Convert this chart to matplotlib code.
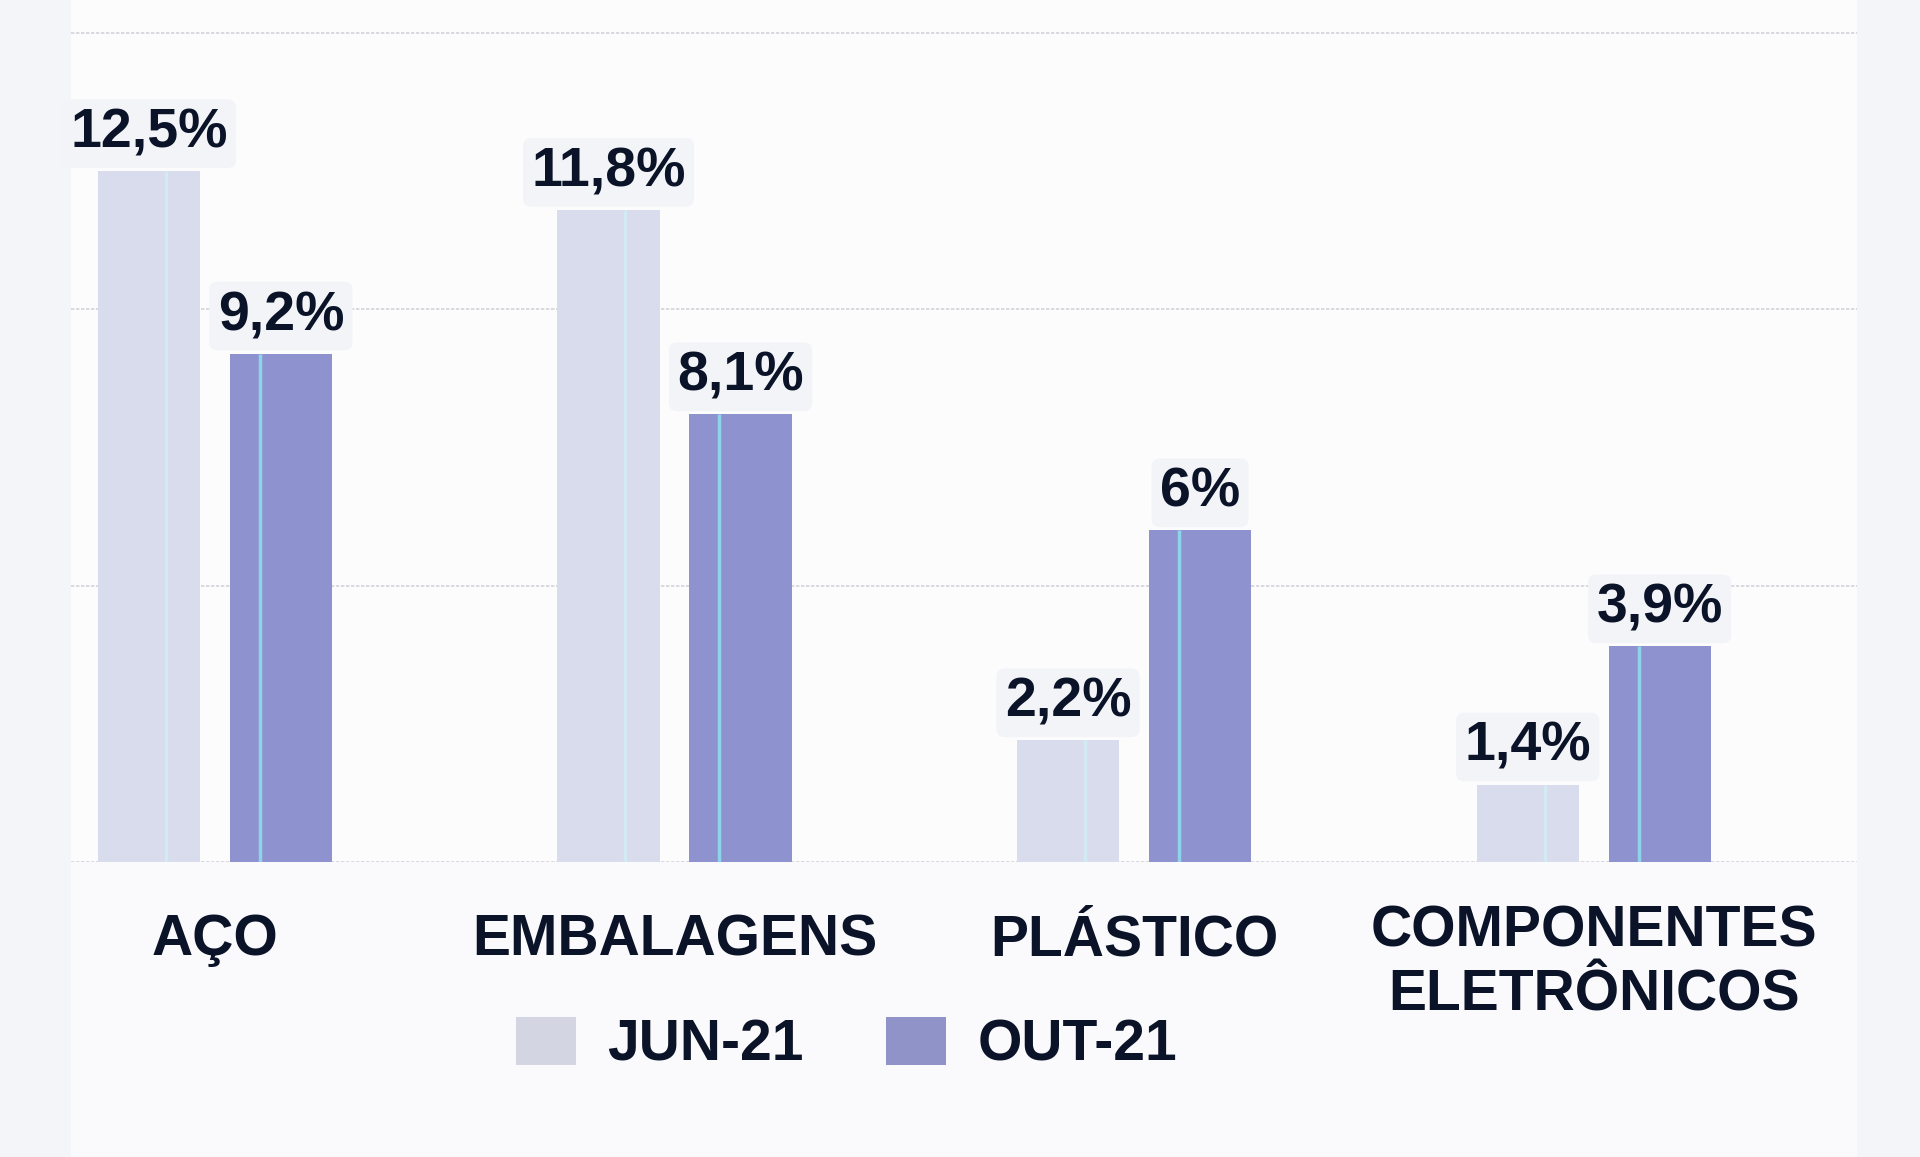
import matplotlib
matplotlib.use("Agg")
import matplotlib.pyplot as plt
import numpy as np
from matplotlib.patches import Patch, Rectangle

categories = ["AÇO", "EMBALAGENS", "PLÁSTICO", "COMPONENTES\nELETRÔNICOS"]
series_names = ["JUN-21", "OUT-21"]
jun_values = [12.5, 11.8, 2.2, 1.4]
out_values = [9.2, 8.1, 6.0, 3.9]
jun_labels = ["12,5%", "11,8%", "2,2%", "1,4%"]
out_labels = ["9,2%", "8,1%", "6%", "3,9%"]
grid_values = [0, 5, 10, 15]

C_JUN = "#d9dcec"
C_OUT = "#8e92cf"
C_JUN_LEG = "#d3d6e2"
C_OUT_LEG = "#8f93c8"
C_TEXT = "#0b1329"

plt.rcParams["font.family"] = ["Liberation Sans", "DejaVu Sans"]

fig = plt.figure(figsize=(19.2, 11.57), dpi=100)
fig.patch.set_facecolor("#f4f5f8")
panel = Rectangle((0.037, 0), 0.9302, 1, transform=fig.transFigure,
                  facecolor="#fafafc", edgecolor="none", zorder=-10)
fig.add_artist(panel)
ax = fig.add_axes([0.037, 0.255, 0.9302, 0.745])
ax.set_zorder(1)
ax.set_facecolor("#fcfcfd")

x = np.arange(len(categories))
w = 0.222
off = 0.1436

for yv in grid_values:
    ax.axhline(yv, color="#d3d3da", lw=1.2, ls=(0, (2, 1)), zorder=0)

ax.bar(x - off, jun_values, w, color=C_JUN, zorder=2)
ax.bar(x + off, out_values, w, color=C_OUT, zorder=2)

# thin light stripes inside the bars
ax.vlines(x - off + 0.037, 0, jun_values, color="#d2ebf3", lw=2.5, zorder=3)
ax.vlines(x + off - 0.046, 0, out_values, color="#8fd3ea", lw=2.5, zorder=3)

for xs, vals, labs in ((x - off, jun_values, jun_labels), (x + off, out_values, out_labels)):
    for xi, v, lab in zip(xs, vals, labs):
        ax.annotate(lab, (xi, v), xytext=(0, 17), textcoords="offset points",
                    ha="center", va="baseline", fontsize=40, fontweight="bold",
                    color=C_TEXT, zorder=4,
                    bbox=dict(boxstyle="round,pad=0.15", fc="#f3f4f7", ec="none"))

trans = ax.get_xaxis_transform()
for xi, cat in zip(x, categories):
    nlines = cat.count("\n") + 1
    ax.text(xi, -0.108 - 0.064 * (nlines - 1), cat, transform=trans,
            ha="center", va="baseline", clip_on=False,
            fontsize=41, fontweight="bold", color=C_TEXT, linespacing=1.22,
            multialignment="center")

ax.set_xlim(-0.313, 3.573)
ax.set_ylim(0, 15.6)
ax.set_xticks([])
ax.set_yticks([])
for s in ax.spines.values():
    s.set_visible(False)

handles = [Patch(facecolor=C_JUN_LEG, edgecolor="none"),
           Patch(facecolor=C_OUT_LEG, edgecolor="none")]
leg = fig.legend(handles, series_names, loc="center", bbox_to_anchor=(0.441, 0.097),
                 ncol=2, frameon=False, handlelength=1.05, handleheight=0.91,
                 handletextpad=0.56, columnspacing=1.44,
                 prop=dict(weight="bold", size=41))
for t in leg.get_texts():
    t.set_color(C_TEXT)

fig.savefig("out.png", dpi=100, facecolor=fig.get_facecolor())
